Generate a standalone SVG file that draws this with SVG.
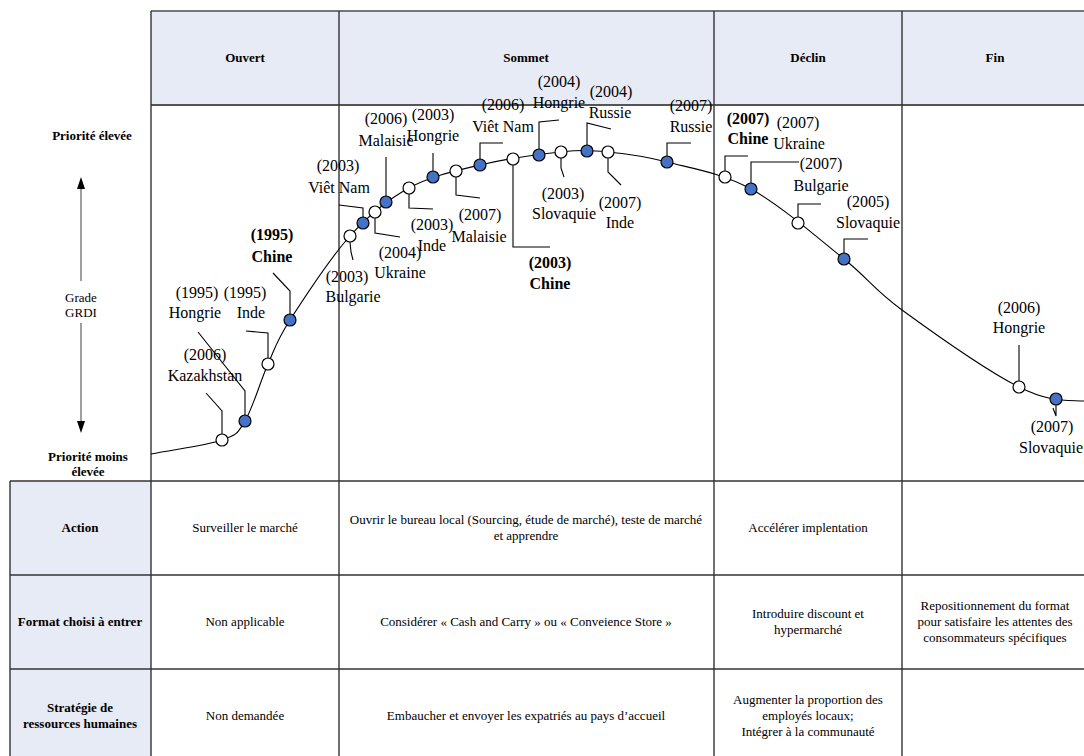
<svg xmlns="http://www.w3.org/2000/svg" width="1084" height="756" viewBox="0 0 1084 756">
<defs>
<style>
.grid{stroke:#333;stroke-width:1.4;fill:none}
.hdr{fill:#E7EBF5}
.hb{font-family:"Liberation Serif",serif;font-weight:bold;font-size:13px;text-anchor:middle;fill:#000}
.cell{font-family:"Liberation Serif",serif;font-size:13px;text-anchor:middle;fill:#000}
.lbl{font-family:"Liberation Serif",serif;font-size:16px;text-anchor:middle;fill:#000}
.lblb{font-family:"Liberation Serif",serif;font-size:16px;font-weight:bold;text-anchor:middle;fill:#000}
.ld{stroke:#000;stroke-width:1.1;fill:none}
.w{fill:#fff;stroke:#000;stroke-width:1.2}
.b{fill:#4472C4;stroke:#000;stroke-width:1.2}
</style>
</defs>
<rect width="1084" height="756" fill="#fff"/>
<g id="top-table">
<rect class="hdr" x="151" y="11" width="940" height="94"/>
<line class="grid" x1="151" y1="11" x2="1084" y2="11" style="stroke:#777;stroke-width:2"/>
<line class="grid" x1="151" y1="105" x2="1084" y2="105" style="stroke:#555;stroke-width:1.8"/>
<line class="grid" x1="151" y1="11" x2="151" y2="481"/>
<line class="grid" x1="339" y1="11" x2="339" y2="481"/>
<line class="grid" x1="714" y1="11" x2="714" y2="481"/>
<line class="grid" x1="902" y1="11" x2="902" y2="481"/>
<text class="hb" x="245" y="62">Ouvert</text>
<text class="hb" x="526" y="62">Sommet</text>
<text class="hb" x="808" y="62">Déclin</text>
<text class="hb" x="995" y="62">Fin</text>
</g>
<g id="axis">
<text class="hb" x="92" y="140">Priorité élevée</text>
<line x1="81" y1="188" x2="81" y2="281" stroke="#808080" stroke-width="1.5"/>
<line x1="81" y1="323" x2="81" y2="421" stroke="#808080" stroke-width="1.5"/>
<polygon points="81,177 77,189 85,189" fill="#000"/>
<polygon points="81,433 77,421 85,421" fill="#000"/>
<text class="cell" x="81" y="302">Grade</text>
<text class="cell" x="81" y="317">GRDI</text>
<text class="hb" x="88" y="461">Priorité moins</text>
<text class="hb" x="88" y="476">élevée</text>
</g>
<g id="bottom-table">
<rect class="hdr" x="10" y="481" width="141" height="290"/>
<line class="grid" x1="10" y1="481" x2="1084" y2="481"/>
<line class="grid" x1="10" y1="575" x2="1084" y2="575"/>
<line class="grid" x1="10" y1="669" x2="1084" y2="669"/>
<line class="grid" x1="10" y1="481" x2="10" y2="756"/>
<line class="grid" x1="151" y1="481" x2="151" y2="756"/>
<line class="grid" x1="339" y1="481" x2="339" y2="756"/>
<line class="grid" x1="714" y1="481" x2="714" y2="756"/>
<line class="grid" x1="902" y1="481" x2="902" y2="756"/>
<text class="hb" x="80" y="532">Action</text>
<text class="hb" x="80" y="626">Format choisi à entrer</text>
<text class="hb" x="80" y="712">Stratégie de</text>
<text class="hb" x="80" y="728">ressources humaines</text>
<text class="cell" x="245" y="532">Surveiller le marché</text>
<text class="cell" x="245" y="626">Non applicable</text>
<text class="cell" x="245" y="720">Non demandée</text>
<text class="cell" x="526" y="524">Ouvrir le bureau local (Sourcing, étude de marché), teste de marché</text>
<text class="cell" x="526" y="540">et apprendre</text>
<text class="cell" x="526" y="626">Considérer « Cash and Carry » ou « Conveience Store »</text>
<text class="cell" x="526" y="720">Embaucher et envoyer les expatriés au pays d’accueil</text>
<text class="cell" x="808" y="532">Accélérer implentation</text>
<text class="cell" x="808" y="618">Introduire discount et</text>
<text class="cell" x="808" y="634">hypermarché</text>
<text class="cell" x="808" y="704">Augmenter la proportion des</text>
<text class="cell" x="808" y="720">employés locaux;</text>
<text class="cell" x="808" y="736">Intégrer à la communauté</text>
<text class="cell" x="995" y="610">Repositionnement du format</text>
<text class="cell" x="995" y="626">pour satisfaire les attentes des</text>
<text class="cell" x="995" y="642">consommateurs spécifiques</text>
</g>
<g id="connectors">
<path class="ld" d="M151,454 C174.7,449.3 206.3,445.5 222,440 C237.7,434.5 237.3,433.7 245,421 C252.7,408.3 260.5,380.8 268,364 C275.5,347.2 276.3,341.3 290,320 C303.7,298.7 330.2,258 350,236 C369.8,214 387.3,199.8 409,188 C430.7,176.2 454.7,171 480,165 C505.3,159 539.7,154.2 561,152 C582.3,149.8 590.3,150.3 608,152 C625.7,153.7 643.2,155.8 667,162 C690.8,168.2 721.5,172.8 751,189 C780.5,205.2 818.8,238.8 844,259 C869.2,279.2 872.8,288.7 902,310 C931.2,331.3 988.7,371.8 1019,387 C1049.3,402.2 1065,400 1084,401"/>
<polyline class="ld" points="222,434 222,411 206,393"/>
<polyline class="ld" points="245,415 245,391 198,332"/>
<polyline class="ld" points="268,358 268,333 246,331"/>
<polyline class="ld" points="290,314 290,291 273,273"/>
<polyline class="ld" points="350,242 351,252 353,260"/>
<polyline class="ld" points="363,217 363,208 339,205"/>
<polyline class="ld" points="375,218 375,233 400,237"/>
<polyline class="ld" points="386,196 386,157"/>
<polyline class="ld" points="409,194 409,208 433,209"/>
<polyline class="ld" points="433,171 433,153"/>
<polyline class="ld" points="456,177 456,195 480,198"/>
<polyline class="ld" points="480,159 480,143 503,143"/>
<polyline class="ld" points="513,165 513,247 550,247"/>
<polyline class="ld" points="539,149 539,122 559,120"/>
<polyline class="ld" points="561,158 561,168 564,177"/>
<polyline class="ld" points="587,145 587,123 611,129"/>
<polyline class="ld" points="608,158 608,172 621,185"/>
<polyline class="ld" points="667,156 667,143 691,143"/>
<polyline class="ld" points="725,171 725,156 748,156"/>
<polyline class="ld" points="751,183 751,162 799,162"/>
<polyline class="ld" points="798,217 798,204 821,204"/>
<polyline class="ld" points="844,253 844,239 868,239"/>
<polyline class="ld" points="1019,381 1019,345"/>
<polyline class="ld" points="1053,408 1056,416 1056,405"/>
</g>
<g id="n-kazakhstan-2006"><circle class="w" cx="222" cy="440" r="6"/><text class="lbl" x="205" y="360">(2006)</text><text class="lbl" x="205" y="381">Kazakhstan</text></g>
<g id="n-hongrie-1995"><circle class="b" cx="245" cy="421" r="6"/><text class="lbl" x="197" y="298">(1995)</text><text class="lbl" x="195" y="318">Hongrie</text></g>
<g id="n-inde-1995"><circle class="w" cx="268" cy="364" r="6"/><text class="lbl" x="245" y="298">(1995)</text><text class="lbl" x="251" y="318">Inde</text></g>
<g id="n-chine-1995"><circle class="b" cx="290" cy="320" r="6"/><text class="lblb" x="272" y="240">(1995)</text><text class="lblb" x="272" y="262">Chine</text></g>
<g id="n-bulgarie-2003"><circle class="w" cx="350" cy="236" r="6"/><text class="lbl" x="347" y="282">(2003)</text><text class="lbl" x="353" y="302">Bulgarie</text></g>
<g id="n-vietnam-2003"><circle class="b" cx="363" cy="223" r="6"/><text class="lbl" x="338" y="171">(2003)</text><text class="lbl" x="339" y="193">Viêt Nam</text></g>
<g id="n-ukraine-2004"><circle class="w" cx="375" cy="212" r="6"/><text class="lbl" x="400" y="258">(2004)</text><text class="lbl" x="400" y="278">Ukraine</text></g>
<g id="n-malaisie-2006"><circle class="b" cx="386" cy="202" r="6"/><text class="lbl" x="386" y="124">(2006)</text><text class="lbl" x="386" y="146">Malaisie</text></g>
<g id="n-inde-2003"><circle class="w" cx="409" cy="188" r="6"/><text class="lbl" x="432" y="230">(2003)</text><text class="lbl" x="432" y="251">Inde</text></g>
<g id="n-hongrie-2003"><circle class="b" cx="433" cy="177" r="6"/><text class="lbl" x="433" y="120">(2003)</text><text class="lbl" x="433" y="141">Hongrie</text></g>
<g id="n-malaisie-2007"><circle class="w" cx="456" cy="171" r="6"/><text class="lbl" x="480" y="220">(2007)</text><text class="lbl" x="479" y="242">Malaisie</text></g>
<g id="n-vietnam-2006"><circle class="b" cx="480" cy="165" r="6"/><text class="lbl" x="503" y="110">(2006)</text><text class="lbl" x="503" y="132">Viêt Nam</text></g>
<g id="n-chine-2003"><circle class="w" cx="513" cy="159" r="6"/><text class="lblb" x="550" y="268">(2003)</text><text class="lblb" x="550" y="289">Chine</text></g>
<g id="n-hongrie-2004"><circle class="b" cx="539" cy="155" r="6"/><text class="lbl" x="559" y="87">(2004)</text><text class="lbl" x="559" y="108">Hongrie</text></g>
<g id="n-slovaquie-2003"><circle class="w" cx="561" cy="152" r="6"/><text class="lbl" x="563" y="199">(2003)</text><text class="lbl" x="564" y="219">Slovaquie</text></g>
<g id="n-russie-2004"><circle class="b" cx="587" cy="151" r="6"/><text class="lbl" x="611" y="97">(2004)</text><text class="lbl" x="610" y="118">Russie</text></g>
<g id="n-inde-2007"><circle class="w" cx="608" cy="152" r="6"/><text class="lbl" x="620" y="208">(2007)</text><text class="lbl" x="620" y="228">Inde</text></g>
<g id="n-russie-2007"><circle class="b" cx="667" cy="162" r="6"/><text class="lbl" x="691" y="111">(2007)</text><text class="lbl" x="691" y="132">Russie</text></g>
<g id="n-chine-2007"><circle class="w" cx="725" cy="177" r="6"/><text class="lblb" x="748" y="124">(2007)</text><text class="lblb" x="748" y="144">Chine</text></g>
<g id="n-ukraine-2007"><circle class="b" cx="751" cy="189" r="6"/><text class="lbl" x="798" y="128">(2007)</text><text class="lbl" x="799" y="149">Ukraine</text></g>
<g id="n-bulgarie-2007"><circle class="w" cx="798" cy="223" r="6"/><text class="lbl" x="821" y="169">(2007)</text><text class="lbl" x="821" y="191">Bulgarie</text></g>
<g id="n-slovaquie-2005"><circle class="b" cx="844" cy="259" r="6"/><text class="lbl" x="868" y="207">(2005)</text><text class="lbl" x="868" y="228">Slovaquie</text></g>
<g id="n-hongrie-2006"><circle class="w" cx="1019" cy="387" r="6"/><text class="lbl" x="1019" y="313">(2006)</text><text class="lbl" x="1019" y="333">Hongrie</text></g>
<g id="n-slovaquie-2007"><circle class="b" cx="1056" cy="399" r="6"/><text class="lbl" x="1052" y="432">(2007)</text><text class="lbl" x="1051" y="453">Slovaquie</text></g>
</svg>
